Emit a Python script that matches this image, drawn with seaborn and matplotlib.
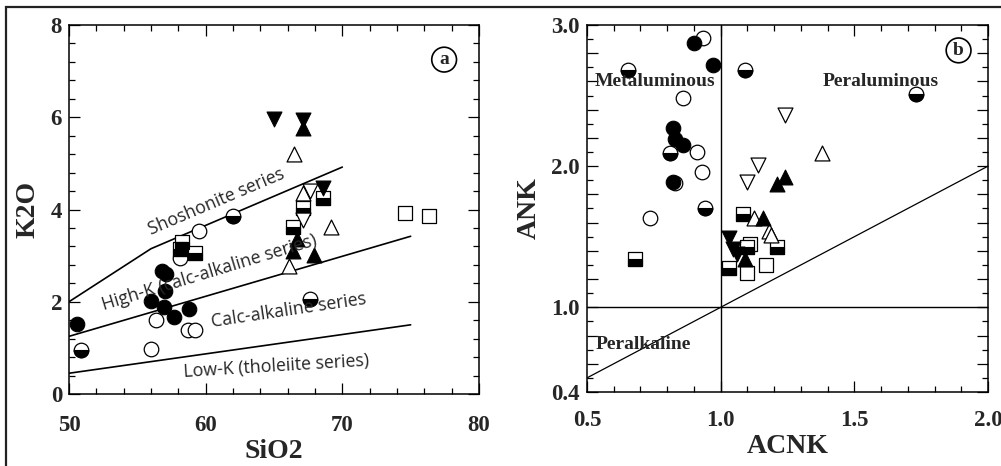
import numpy as np
import matplotlib
matplotlib.use("Agg")
import matplotlib.pyplot as plt
import seaborn as sns
from matplotlib.markers import MarkerStyle
from matplotlib.ticker import MultipleLocator, FixedLocator, FuncFormatter
from matplotlib.patches import Rectangle

sns.set_theme(style="white")
plt.rcParams['font.family'] = ['Liberation Serif', 'DejaVu Serif']
plt.rcParams['font.weight'] = 'bold'

# ---------------- Panel (a): SiO2 vs K2O ----------------
a_filled_circle_x = [50.56, 56.8, 57.1, 57.05, 56.0, 56.96, 57.7, 58.8]
a_filled_circle_y = [1.52, 2.67, 2.60, 2.24, 2.02, 1.88, 1.68, 1.84]
a_open_circle_x = [59.5, 58.1, 56.4, 58.7, 59.2, 56.0]
a_open_circle_y = [3.54, 2.95, 1.60, 1.38, 1.38, 0.98]
a_half_circle_x = [62.0, 50.9, 67.6]
a_half_circle_y = [3.85, 0.95, 2.06]
a_filled_up_x = [67.1, 66.4, 67.96, 66.7]
a_filled_up_y = [5.76, 3.10, 3.02, 3.35]
a_open_up_x = [66.5, 67.1, 69.2, 66.1]
a_open_up_y = [5.21, 4.36, 3.63, 2.77]
a_filled_down_x = [65.0, 67.1, 68.6]
a_filled_down_y = [5.96, 5.95, 4.46]
a_open_down_x = [67.6, 67.1]
a_open_down_y = [4.40, 3.78]
a_half_square_x = [67.1, 66.4, 68.56, 58.3, 58.1, 59.2]
a_half_square_y = [4.03, 3.63, 4.25, 3.30, 3.15, 3.06]
a_open_square_x = [74.6, 76.35]
a_open_square_y = [3.92, 3.85]

# series boundary lines
shosh_x = [50, 56, 70]
shosh_y = [2.0, 3.15, 4.92]
highk_x = [50, 75]
highk_y = [1.25, 3.42]
calc_x = [50, 75]
calc_y = [0.45, 1.50]

series_labels = ["Shoshonite series", "High-K (calc-alkaline series)",
                 "Calc-alkaline series", "Low-K (tholeiite series)"]

# ---------------- Panel (b): ACNK vs ANK ----------------
b_filled_circle_x = [0.90, 0.97, 0.82, 0.83, 0.86, 0.82]
b_filled_circle_y = [2.87, 2.72, 2.27, 2.19, 2.15, 1.89]
b_open_circle_x = [0.933, 0.858, 0.91, 0.93, 0.736, 0.83]
b_open_circle_y = [2.91, 2.48, 2.10, 1.96, 1.63, 1.88]
b_half_circle_x = [0.655, 1.09, 0.81, 0.94, 1.73]
b_half_circle_y = [2.68, 2.68, 2.09, 1.70, 2.51]
b_open_square_x = [1.10, 1.17, 1.11]
b_open_square_y = [1.24, 1.30, 1.45]
b_half_square_x = [0.68, 1.082, 1.21, 1.03, 1.10]
b_half_square_y = [1.34, 1.66, 1.43, 1.28, 1.43]
b_filled_down_x = [1.03, 1.047, 1.06]
b_filled_down_y = [1.49, 1.41, 1.38]
b_filled_up_x = [1.24, 1.21, 1.16, 1.09]
b_filled_up_y = [1.92, 1.87, 1.63, 1.34]
b_open_up_x = [1.38, 1.125, 1.18, 1.19]
b_open_up_y = [2.09, 1.63, 1.54, 1.51]
b_open_down_x = [1.24, 1.14, 1.097]
b_open_down_y = [2.36, 2.01, 1.89]

diag_x = [0.5, 2.0]
diag_y = [0.5, 2.0]

fig = plt.figure(figsize=(10.01, 4.66), dpi=100)
axa = fig.add_axes([0.0689, 0.1545, 0.4096, 0.7918])
axb = fig.add_axes([0.5864, 0.1588, 0.4006, 0.7876])

S_CIRC = 110
S_TRI = 115
S_SQ = 100


def filled(ax, x, y, m, s):
    sns.scatterplot(x=x, y=y, marker=m, s=s, color='black', edgecolor='black',
                    linewidth=0.8, ax=ax, zorder=3)


def hollow(ax, x, y, m, s):
    sns.scatterplot(x=x, y=y, marker=m, s=s, color='black', facecolor='white',
                    edgecolor='black', linewidth=0.9, ax=ax, zorder=3)


def half(ax, x, y, m, s):
    hollow(ax, x, y, m, s)
    sns.scatterplot(x=x, y=y, marker=MarkerStyle(m, fillstyle='bottom'), s=s,
                    color='black', edgecolor='black', linewidth=0.8, ax=ax, zorder=3)


# ---- panel a
for xs, ys in [(shosh_x, shosh_y), (highk_x, highk_y), (calc_x, calc_y)]:
    sns.lineplot(x=xs, y=ys, sort=False, estimator=None, color='black', lw=1.2, ax=axa)

hollow(axa, a_open_circle_x, a_open_circle_y, 'o', S_CIRC)
filled(axa, a_filled_circle_x, a_filled_circle_y, 'o', S_CIRC)
half(axa, a_half_circle_x, a_half_circle_y, 'o', S_CIRC)
hollow(axa, a_open_square_x, a_open_square_y, 's', S_SQ)
half(axa, a_half_square_x, a_half_square_y, 's', S_SQ)
hollow(axa, a_open_up_x, a_open_up_y, '^', S_TRI)
hollow(axa, a_open_down_x, a_open_down_y, 'v', S_TRI)
filled(axa, a_filled_up_x, a_filled_up_y, '^', S_TRI)
filled(axa, a_filled_down_x, a_filled_down_y, 'v', S_TRI)

sans = ['Open Sans', 'DejaVu Sans']
FS_SER = 12.8
axa.text(60.8, 4.17, series_labels[0], rotation=23, rotation_mode='anchor',
         ha='center', va='center', fontsize=FS_SER, family=sans, fontweight='normal')
axa.text(60.3, 2.64, series_labels[1], rotation=17, rotation_mode='anchor',
         ha='center', va='center', fontsize=FS_SER, family=sans, fontweight='normal')
axa.text(66.1, 1.82, series_labels[2], rotation=8.5, rotation_mode='anchor',
         ha='center', va='center', fontsize=FS_SER, family=sans, fontweight='normal')
axa.text(65.2, 0.60, series_labels[3], rotation=3.5, rotation_mode='anchor',
         ha='center', va='center', fontsize=FS_SER, family=sans, fontweight='normal')

axa.text(77.45, 7.25, 'a', ha='center', va='center', fontsize=14, fontweight='bold',
         bbox=dict(boxstyle='circle,pad=0.2', fc='white', ec='black', lw=1.2))

axa.set_xlim(50, 80)
axa.set_ylim(0, 8)
axa.xaxis.set_major_locator(FixedLocator([50, 60, 70, 80]))
axa.xaxis.set_minor_locator(MultipleLocator(2))
axa.yaxis.set_major_locator(FixedLocator([0, 2, 4, 6, 8]))
axa.yaxis.set_minor_locator(MultipleLocator(0.4))
axa.set_xlabel('SiO2', fontsize=20, fontweight='bold', labelpad=2)
axa.set_ylabel('K2O', fontsize=20, fontweight='bold', labelpad=7)

# ---- panel b
axb.axvline(1.0, color='black', lw=1.0, zorder=1)
axb.axhline(1.0, color='black', lw=1.0, zorder=1)
sns.lineplot(x=diag_x, y=diag_y, sort=False, estimator=None, color='black', lw=0.9, ax=axb)

hollow(axb, b_open_circle_x, b_open_circle_y, 'o', S_CIRC)
filled(axb, b_filled_circle_x, b_filled_circle_y, 'o', S_CIRC)
half(axb, b_half_circle_x, b_half_circle_y, 'o', S_CIRC)
hollow(axb, b_open_square_x, b_open_square_y, 's', S_SQ)
half(axb, b_half_square_x, b_half_square_y, 's', S_SQ)
hollow(axb, b_open_up_x, b_open_up_y, '^', S_TRI)
hollow(axb, b_open_down_x, b_open_down_y, 'v', S_TRI)
filled(axb, b_filled_down_x, b_filled_down_y, 'v', S_TRI)
filled(axb, b_filled_up_x, b_filled_up_y, '^', S_TRI)

axb.text(0.756, 2.60, 'Metaluminous', ha='center', va='center', fontsize=14, fontweight='bold')
axb.text(1.60, 2.60, 'Peraluminous', ha='center', va='center', fontsize=14, fontweight='bold')
axb.text(0.711, 0.74, 'Peralkaline', ha='center', va='center', fontsize=14, fontweight='bold')
axb.text(1.89, 2.82, 'b', ha='center', va='center', fontsize=14, fontweight='bold',
         bbox=dict(boxstyle='circle,pad=0.2', fc='white', ec='black', lw=1.2))

axb.set_xlim(0.5, 2.0)
axb.set_ylim(0.4, 3.0)
axb.xaxis.set_major_locator(FixedLocator([0.5, 1.0, 1.5, 2.0]))
axb.xaxis.set_minor_locator(MultipleLocator(0.1))
axb.xaxis.set_major_formatter(FuncFormatter(lambda v, p: f"{v:.1f}"))
ymaj = [round(0.4 + 0.2 * i, 1) for i in range(14)]
axb.yaxis.set_major_locator(FixedLocator(ymaj))
axb.yaxis.set_minor_locator(MultipleLocator(0.1))
shown = {0.4, 1.0, 2.0, 3.0}
axb.yaxis.set_major_formatter(FuncFormatter(
    lambda v, p: f"{v:.1f}" if round(v, 1) in shown else ""))
axb.set_xlabel('ACNK', fontsize=20, fontweight='bold', labelpad=2)
axb.set_ylabel('ANK', fontsize=20, fontweight='bold', labelpad=7)

for ax, xpad in [(axa, 15), (axb, 13)]:
    for sp in ax.spines.values():
        sp.set_color('black')
        sp.set_linewidth(1.1)
        sp.set_visible(True)
    ax.tick_params(which='both', direction='in', top=True, right=True,
                   bottom=True, left=True, color='black', width=0.9)
    ax.tick_params(which='major', length=8, labelsize=16.5)
    ax.tick_params(which='minor', length=4.5)
    ax.tick_params(axis='x', which='major', pad=xpad)
    ax.tick_params(axis='y', which='major', pad=5)
    for lab in ax.get_xticklabels() + ax.get_yticklabels():
        lab.set_fontweight('bold')
    ax.grid(False)
    ax.set_facecolor('white')

# outer frame (left and top edges visible; right/bottom run off the canvas)
fig.add_artist(Rectangle((6 / 1001, -0.05), 1.05, 1.05 - 7 / 466,
                         transform=fig.transFigure, fill=False, ec='#222222', lw=1.6,
                         clip_on=False))

fig.savefig('out.png', dpi=100)
